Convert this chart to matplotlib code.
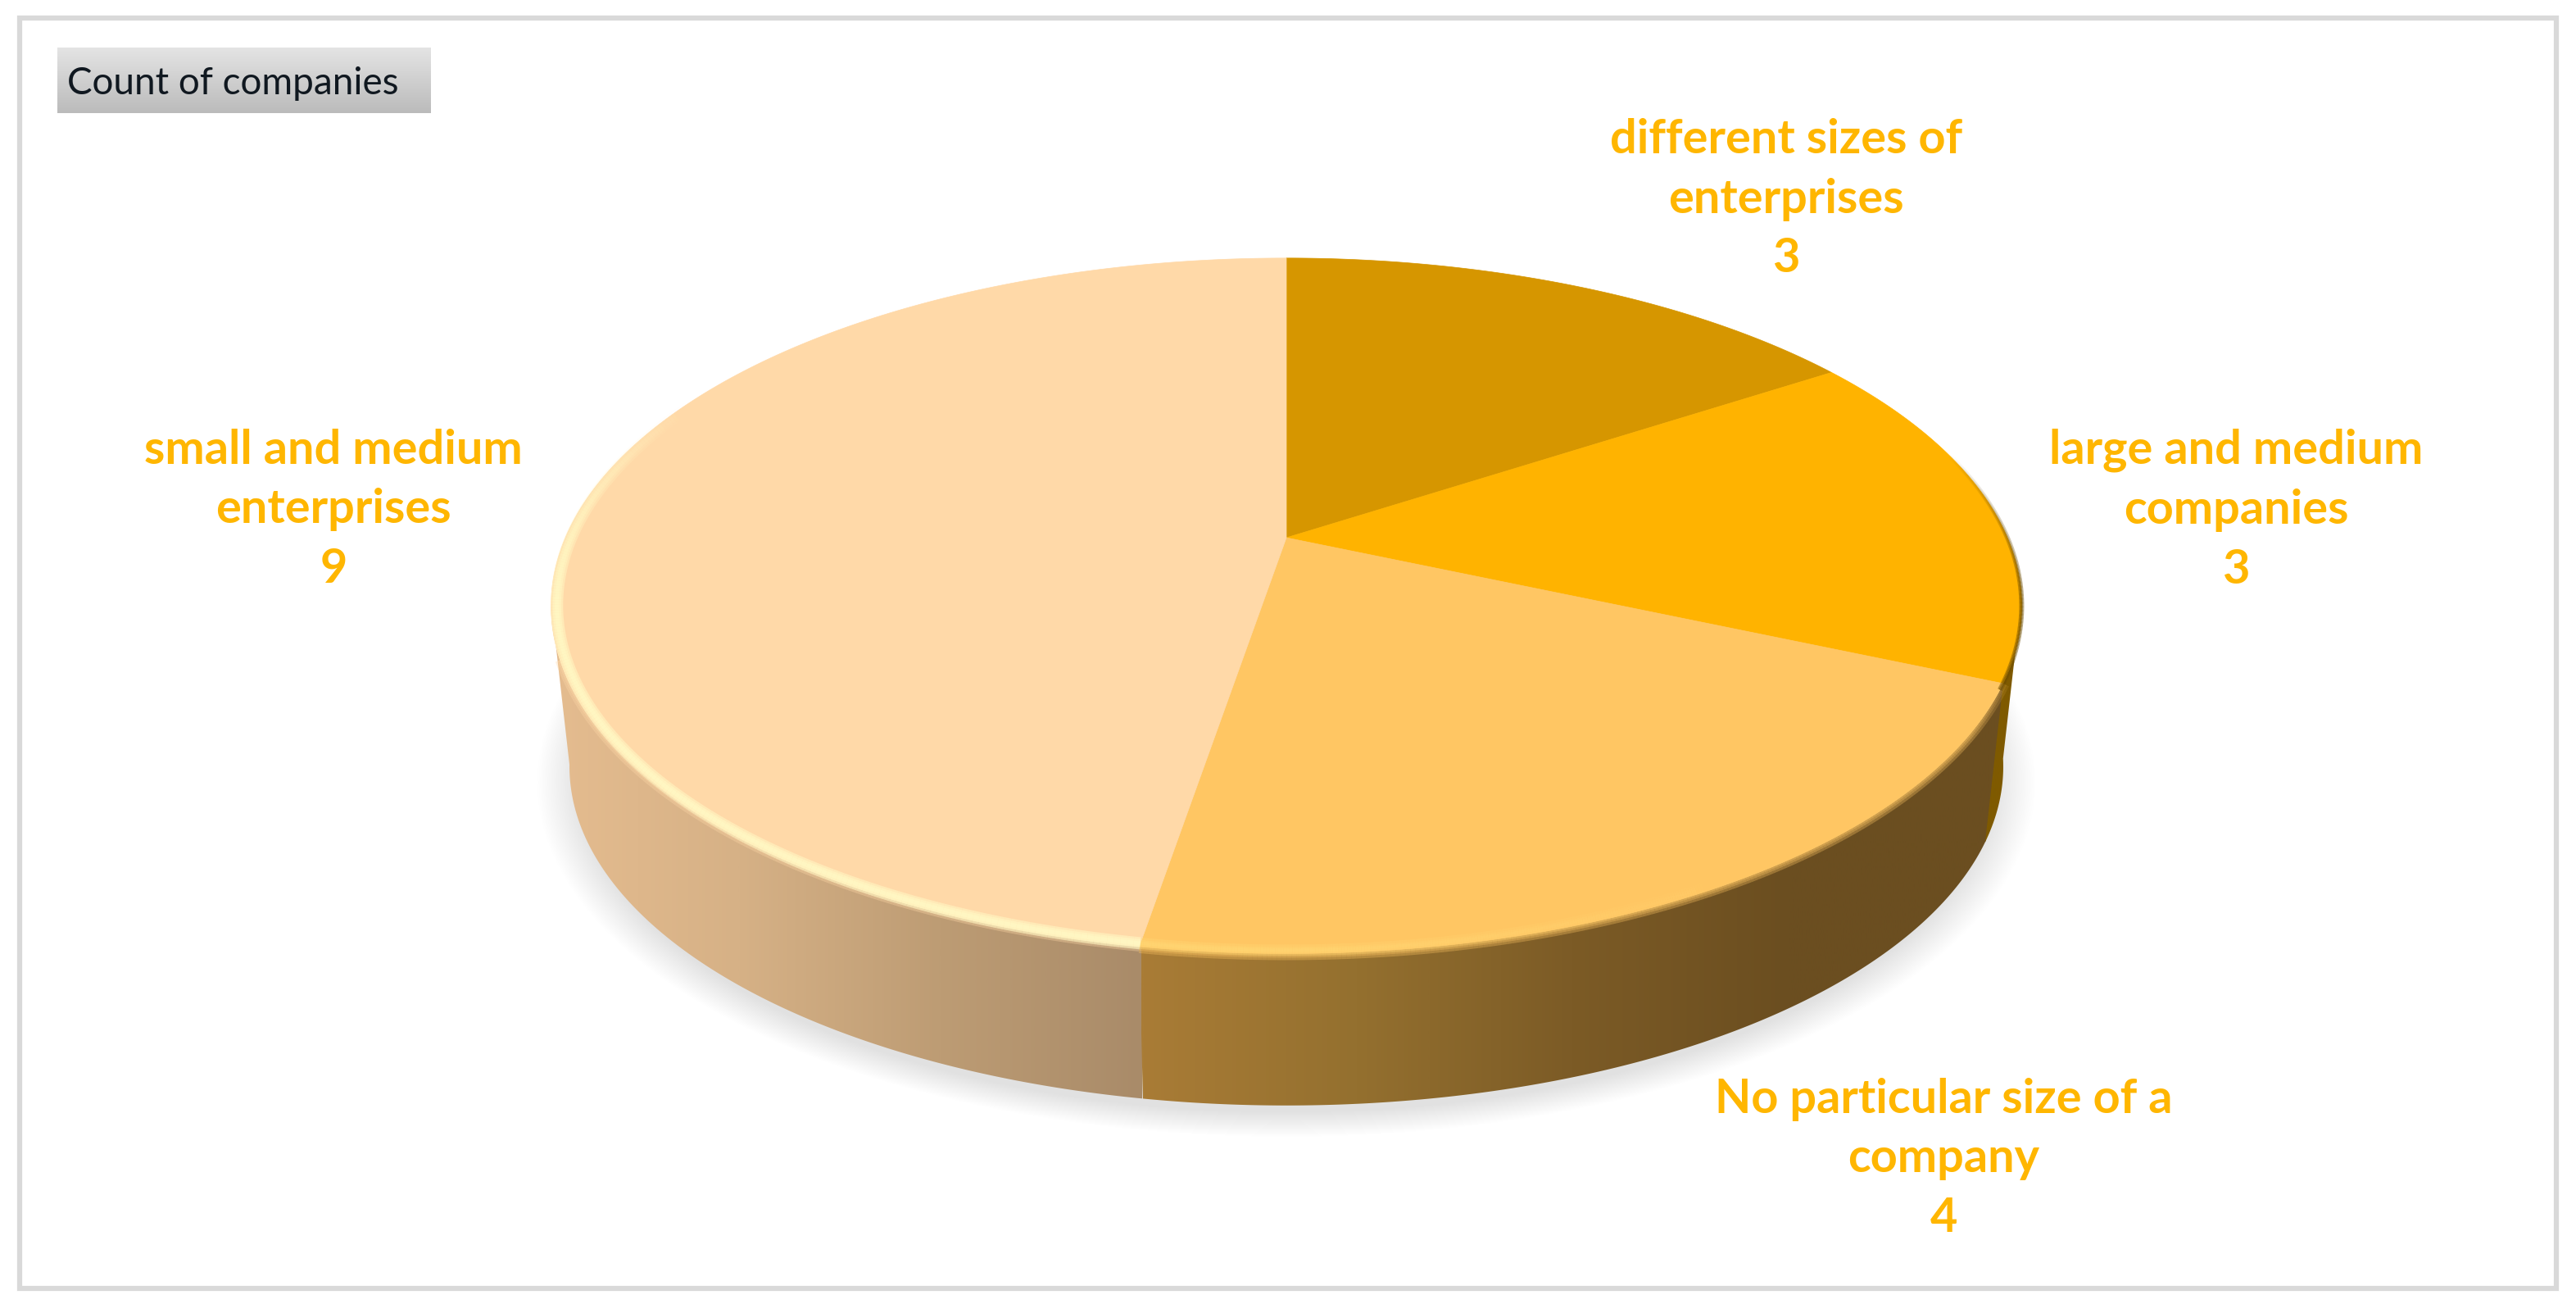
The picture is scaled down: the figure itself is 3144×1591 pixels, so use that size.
import matplotlib
matplotlib.use("Agg")
import matplotlib.pyplot as plt
import numpy as np
from matplotlib.collections import LineCollection
from matplotlib.colors import LinearSegmentedColormap, to_rgb
from matplotlib.patches import Polygon, Rectangle

# data
categories = ["different sizes of\nenterprises", "large and medium\ncompanies",
              "No particular size of a\ncompany", "small and medium\nenterprises"]
values = [3, 3, 4, 9]
top_colors = ["#D69600", "#FFB300", "#FFC663", "#FFD9A8"]
title = "Count of companies"

label_xy = [(2180, 243), (2729, 622), (2372, 1414), (407, 622)]
label_color = "#FFB600"

# perspective disc, pixels of the picture
cx, cy = 1570, 656
rx, ry, persp = 880, 408, 0.196
depth, bottom_scale = 198, 0.975


def disc(phi, scale=1.0, shift=0.0):
    # phi in degrees, clockwise from the top
    p = np.radians(phi)
    den = 1 + persp * np.cos(p)
    return (cx + scale * rx * np.sin(p) / den,
            cy - scale * ry * np.cos(p) / den + shift)


def arc(a, b, scale=1.0, shift=0.0, n=200):
    x, y = disc(np.linspace(a, b, n), scale, shift)
    return np.column_stack([x, y])


def soft_stroke(ax, a, b, color, widths, alpha, scale=1.0, zorder=6):
    # alpha is a function of phi, so a stroke can fade along the rim
    phi = np.linspace(a, b, 240)
    pts = arc(a, b, scale, n=240)
    segs = np.stack([pts[:-1], pts[1:]], axis=1)
    rgba = np.zeros((len(segs), 4))
    rgba[:, :3] = to_rgb(color)
    rgba[:, 3] = alpha(phi[:-1])
    for w in widths:
        ax.add_collection(LineCollection(segs, colors=rgba, linewidths=w * 0.72,
                                         capstyle="butt", zorder=zorder))


fig = plt.figure(figsize=(31.44, 15.91), dpi=100)
ax = fig.add_axes([0, 0, 1, 1])
ax.axis("off")

# frame
ax.add_patch(Rectangle((24, 22), 3096, 1550, fill=False, ec="#D9D9D9", lw=4.5, zorder=1))

# soft shadow below the disc
for s in np.linspace(1.045, 0.985, 30):
    ax.add_patch(Polygon(arc(0, 360, bottom_scale * s, depth + 16), fc="black", ec="none",
                         alpha=0.0042, zorder=2))

# side wall pieces, only the part in front can be seen
edges = np.cumsum([0] + values) / sum(values) * 360
wall_parts = [
    (edges[3] - 0.3, 259, ["#E6BD90", "#D6B186", "#BD9C74", "#A98B69"], 655, 1394),
    (edges[2] - 0.3, edges[3], ["#A97C36", "#94702F", "#7C5B26", "#6B4E20", "#6B4E20"], 1393, 2445),
    (100, edges[2], ["#7F5A00", "#7F5A00"], 2380, 2490),
]
for a, b, cols, x0, x1 in wall_parts:
    outline = np.vstack([arc(a, b), arc(b, a, bottom_scale, depth)])
    cmap = LinearSegmentedColormap.from_list("wall", cols)
    im = ax.imshow(np.linspace(0, 1, 512)[None, :], cmap=cmap, aspect="auto",
                   extent=(x0, x1, 1400, 650), zorder=3)
    clip = Polygon(outline, transform=ax.transData)
    im.set_clip_path(clip)

# darker foot of the wall, stronger towards the front
soft_stroke(ax, 125, 250, "#4A3210", [3, 1.5],
            lambda p: 0.4 * np.clip(1 - np.abs(p - 185) / 65, 0, 1), scale=bottom_scale, zorder=4)

# top face
for i, col in enumerate(top_colors):
    pts = np.vstack([[cx, cy], arc(edges[i], edges[i + 1])])
    ax.add_patch(Polygon(pts, fc=col, ec=col, lw=0.5, zorder=5))

# rim: the blur between top and wall, and the pale bevel
soft_stroke(ax, edges[2], edges[3], top_colors[2], [16, 10, 5],
            lambda p: np.clip((p - 110) / 12, 0, 1) * 0.33, zorder=4)
soft_stroke(ax, edges[3], 250, top_colors[3], [12, 6],
            lambda p: np.full_like(p, 0.35), zorder=4)
soft_stroke(ax, 75, edges[2] + 1, "#6F4E00", [6, 3],
            lambda p: 0.5 * np.clip((p - 75) / 25, 0, 1), zorder=6)
soft_stroke(ax, edges[3], 295, "#FFFBC6", [15, 10, 5],
            lambda p: 0.5 * np.clip((295 - p) / 35, 0, 1), scale=0.992)
soft_stroke(ax, 145, edges[3], "#FFDC78", [14, 8, 4],
            lambda p: 0.3 * np.clip((p - 145) / 40, 0, 1), scale=0.992)

# title button
btn = ax.imshow(np.linspace(0, 1, 128)[:, None],
                cmap=LinearSegmentedColormap.from_list("btn", ["#E4E4E4", "#BBBBBB"]),
                aspect="auto", extent=(70, 526, 138, 58), zorder=2)
ax.text(82, 102, title, fontsize=33, family="Lato", color="#101820", va="center", ha="left", zorder=7)

# labels
for name, val, (x, y) in zip(categories, values, label_xy):
    ax.text(x, y, f"{name}\n{val}", fontsize=41.5, family="Lato", fontweight="bold",
            color=label_color, ha="center", va="center", linespacing=1.46, zorder=7)

ax.set_xlim(0, 3144)
ax.set_ylim(1591, 0)
fig.savefig("out.png", dpi=100, facecolor="white")
